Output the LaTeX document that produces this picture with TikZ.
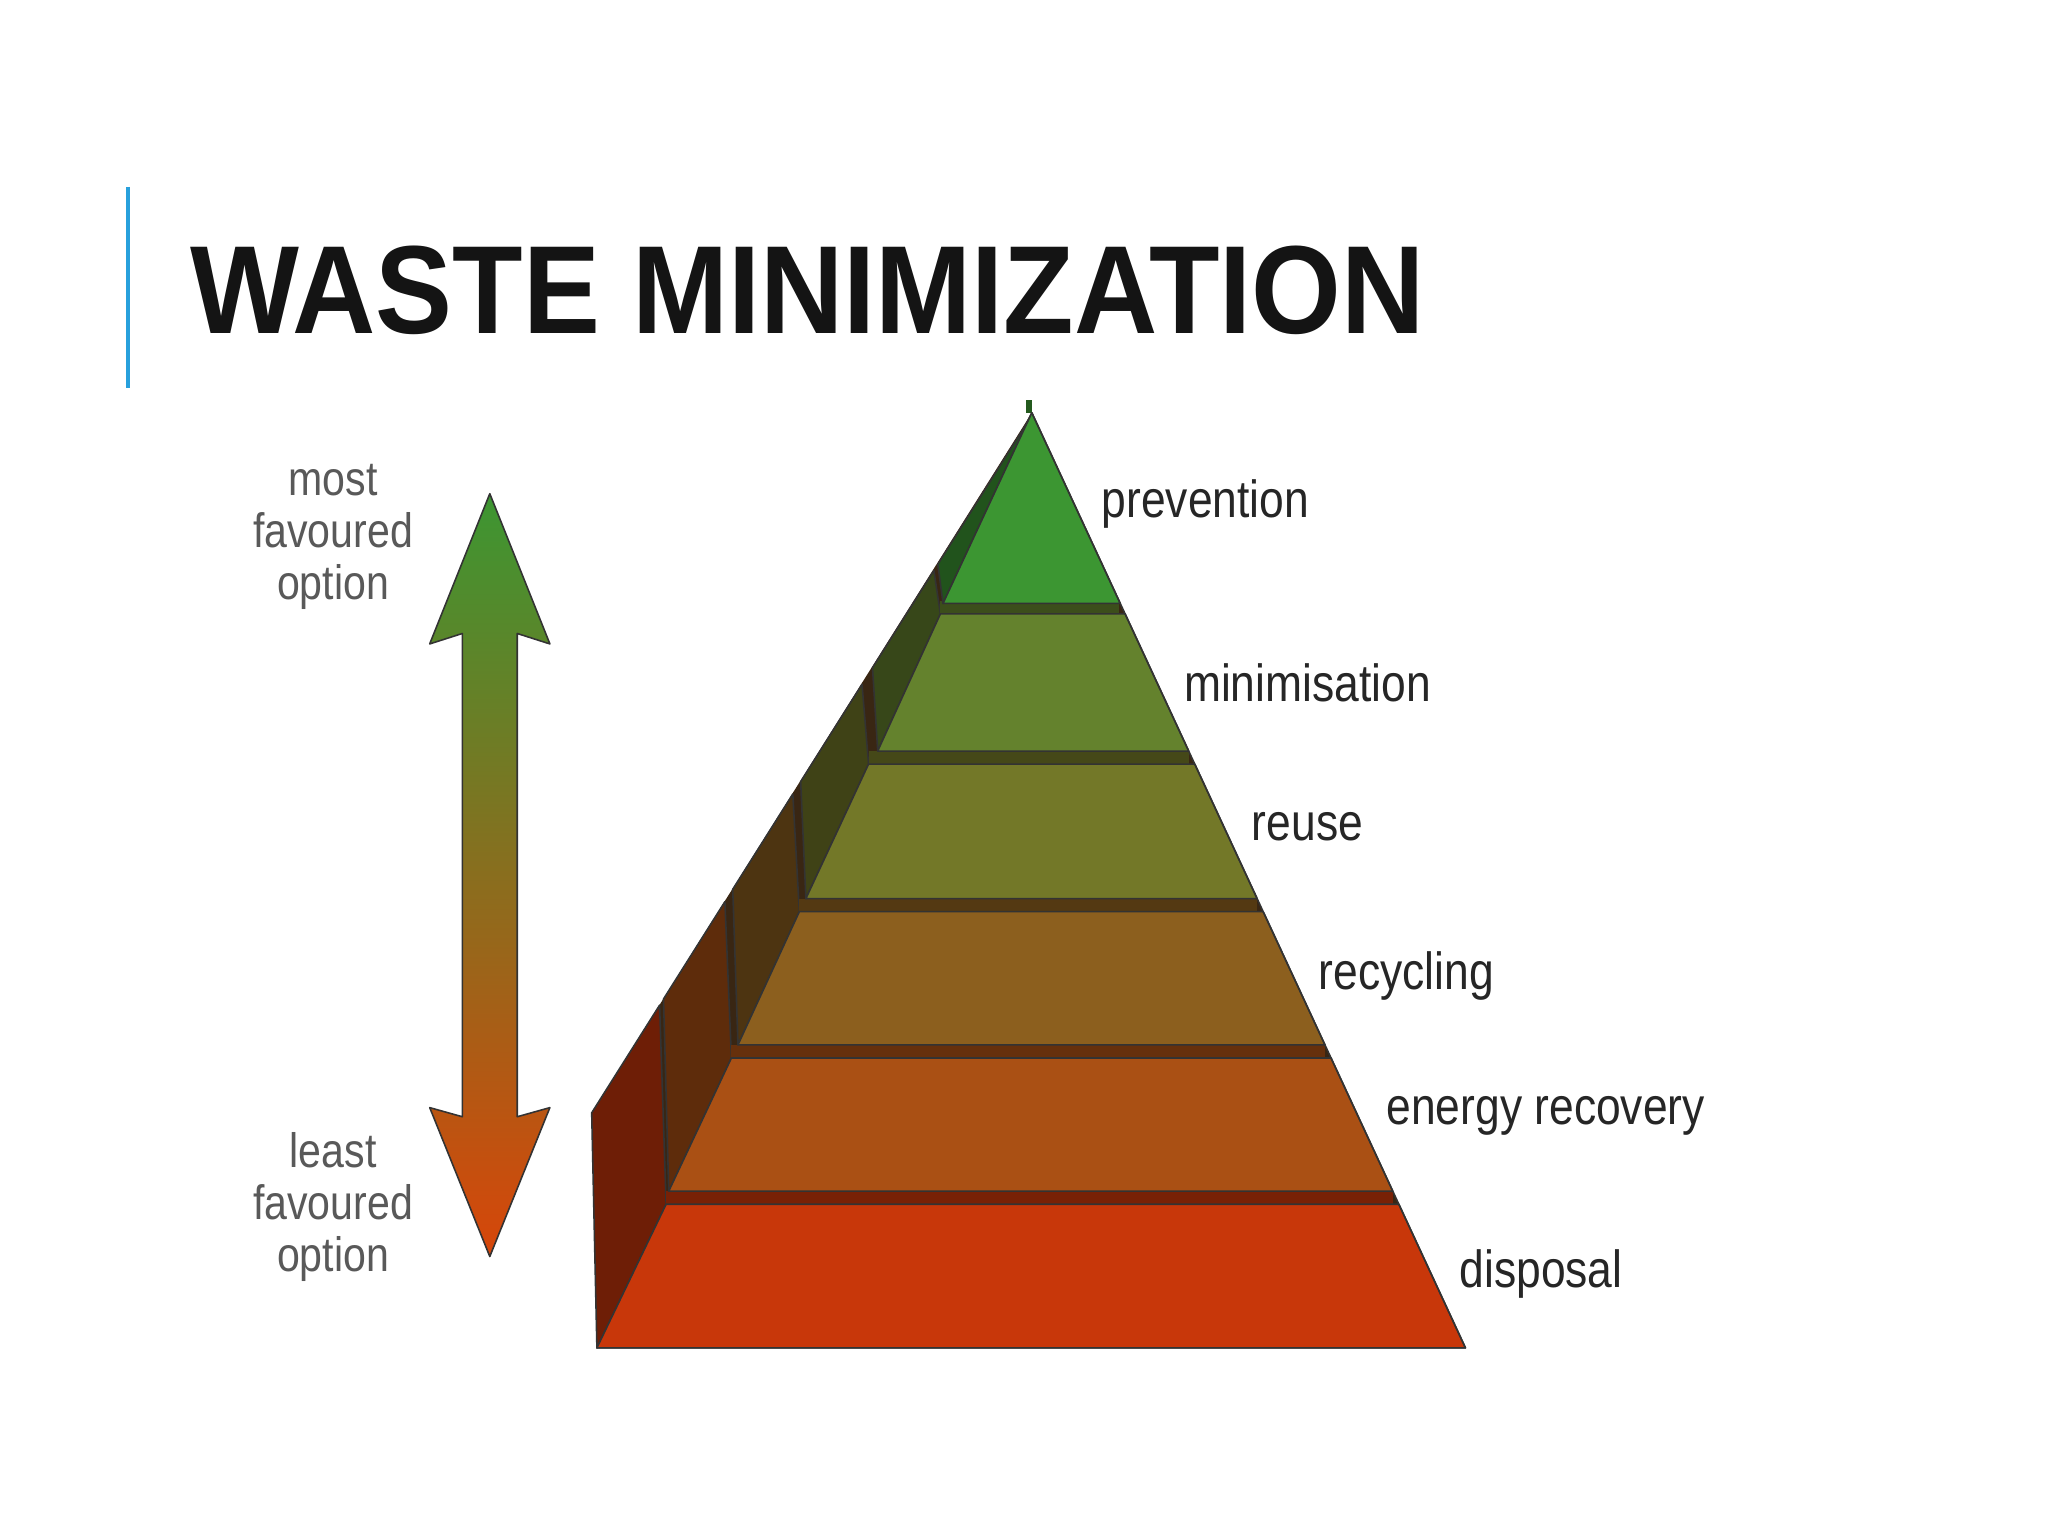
\documentclass[tikz,border=0pt]{standalone}
\usepackage{fontspec}
\setmainfont{Liberation Sans}
\newfontfamily\lab[FakeStretch=0.85]{Liberation Sans}
\newfontfamily\ttl[FakeStretch=0.92]{Liberation Sans Bold}
\begin{document}
\begin{tikzpicture}[x=1pt,y=-1pt,
  lbl/.style={font=\lab\fontsize{40}{46}\selectfont,anchor=west,text=black!85},
  side/.style={font=\lab\fontsize{37}{46}\selectfont,text=black!65,align=center},
  edge/.style={draw=black!80,line width=1.2pt,line join=round}]
\useasboundingbox (0,0) rectangle (1568,1176);
\fill[white] (0,0) rectangle (1568,1176);
\draw[color={rgb,255:red,40;green,160;blue,220},line width=2.5pt] (98,143) -- (98,297);
\node[anchor=west,font=\ttl\fontsize{96}{100}\selectfont,text=black!92] (title) at (142,222) {WASTE MINIMIZATION};
% arrow
\shade[top color={rgb,255:red,60;green,150;blue,50},bottom color={rgb,255:red,215;green,70;blue,10},edge]
 (375,378) -- (421,493) -- (396,485) -- (396,855) -- (421,848) -- (375,962) -- (329,848) -- (354,855) -- (354,485) -- (329,493) -- cycle;
\node[side] (top) at (255,411) {most\\[-6pt]favoured\\[-6pt]option};
\node[side] (bot) at (255,924) {least\\[-6pt]favoured\\[-6pt]option};
% silhouette: y = 852 - (x-453)/0.631
\def\sil#1{852-(#1-453)/0.631}
\def\R#1{790+(#1-316)*0.4637}
% back dark fill
\fill[black!70!brown] (790,316) -- (1122,1032) -- (457,1032) -- (453,852) -- cycle;
% layers: Bx,By, Tx,Ty, color
\foreach \bx/\by/\tx/\ty/\r/\g/\b in {
  457/1032/510/922/200/55/10,
  512/912/560/810/170/80/20,
  565/800/612/698/140/95/30,
  617/688/665/585/115/120/40,
  672/575/720/470/100/130/45,
  722/462/790/316/60/150/50}{
  \definecolor{lc}{RGB}{\r,\g,\b}
  \fill[lc!55!black,edge] (\bx,\by) -- (\tx,\ty) -- (\tx-5,{\sil{(\tx-5)}}) -- (\bx-4,{\sil{(\bx-4)}}) -- cycle;
  \fill[lc!60!black] (\tx,\ty-10) rectangle ({\R{\ty-10}},\ty);
  \fill[lc,edge] (\bx,\by) -- (\tx,\ty) -- ({\R{\ty}},\ty) -- ({\R{\by}},\by) -- cycle;
}
\draw[edge] (790,316) -- (1122,1032) -- (457,1032);
\node[lbl] (l1) at (840,386) {prevention};
\node[lbl] (l2) at (903,523) {minimisation};
\node[lbl] (l3) at (955,633) {reuse};
\node[lbl] (l4) at (1006,747) {recycling};
\node[lbl] (l5) at (1058,854) {energy recovery};
\node[lbl] (l6) at (1114,975) {disposal};
\end{tikzpicture}
\end{document}
